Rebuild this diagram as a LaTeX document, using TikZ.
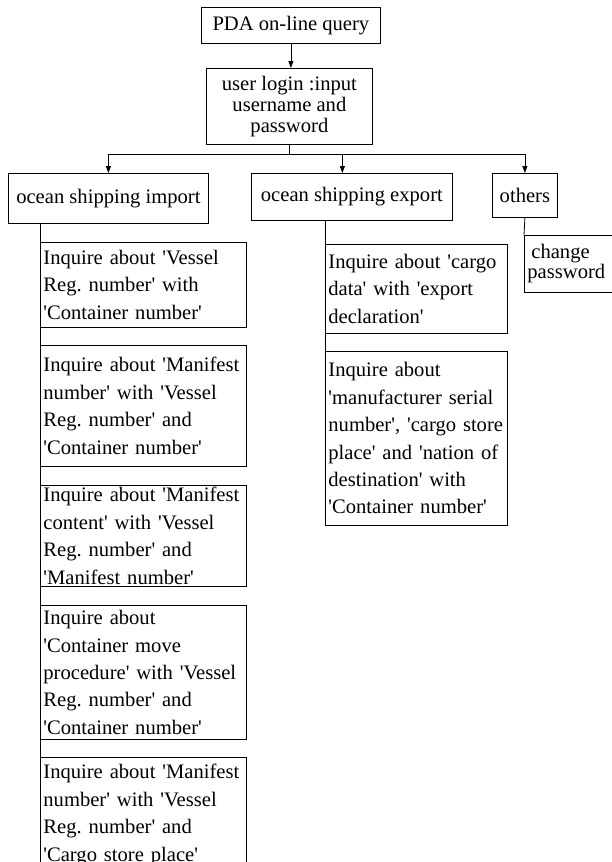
\documentclass[tikz,border=0pt]{standalone}
\usepackage{fontspec}
\setmainfont{Liberation Serif}[Ligatures=TeXOff]
\frenchspacing
\usetikzlibrary{arrows.meta,positioning}

\begin{document}
\begin{tikzpicture}[x=1pt, y=-1pt, >={Triangle[length=7pt,width=5pt]},
  qbox/.style={draw,line width=.8pt,anchor=north west,inner xsep=3pt,inner ysep=0pt,
               font=\fontsize{20.6pt}{27.4pt}\selectfont},
  hbox/.style={qbox,align=center},
  lbox/.style={qbox,align=left},
  conn/.style={line width=.8pt}]
  \useasboundingbox (0,0) rectangle (611,862);
  % top of the tree
  \node[hbox,minimum width=179pt,minimum height=36pt] (pda) at (201,7) {PDA on-line query};
  \node[hbox,minimum width=166pt,minimum height=76pt,
        font=\fontsize{20.6pt}{21pt}\selectfont] (login) at (206,68)
        {user login :input\\username and\\password};
  \node[hbox,minimum width=200pt,minimum height=50pt] (imp) at (8,173) {ocean shipping import};
  \node[hbox,minimum width=201pt,minimum height=47pt] (exp) at (251,173) {ocean shipping export};
  \node[hbox,minimum width=65pt,minimum height=44pt]  (oth) at (492,173) {others};
  % import queries
  \node[lbox,text width=200pt,minimum height=85pt] (ib1) at (40,242)
        {Inquire about 'Vessel\\Reg. number' with\\'Container number'};
  \node[lbox,text width=200pt,minimum height=121pt] (ib2) at (40,345)
        {Inquire about 'Manifest\\number' with 'Vessel\\Reg. number' and\\'Container number'};
  \node[lbox,text width=200pt,minimum height=101pt] (ib3) at (40,485)
        {Inquire about 'Manifest\\content' with 'Vessel\\Reg. number' and\\'Manifest number'};
  \node[lbox,text width=200pt,minimum height=134pt] (ib4) at (40,605)
        {Inquire about\\'Container move\\procedure' with 'Vessel\\Reg. number' and\\'Container number'};
  \node[lbox,text width=200pt,minimum height=115pt] (ib5) at (40,757)
        {Inquire about 'Manifest\\number' with 'Vessel\\Reg. number' and\\'Cargo store place'};
  % export queries
  \node[lbox,text width=176pt,minimum height=89pt] (eb1) at (325,244)
        {Inquire about 'cargo\\data' with 'export\\declaration'};
  \node[lbox,text width=176pt,minimum height=174pt] (eb2) at (325,351)
        {Inquire about\\'manufacturer serial\\number', 'cargo store\\place' and 'nation of\\destination' with\\'Container number'};
  % others
  \node[lbox,text width=114pt,minimum height=57pt,
        font=\fontsize{20.6pt}{14pt}\selectfont] (chg) at (524,235)
        {\hspace{4pt}change\\password};

  \draw[conn,->] (pda.south) -- (pda.south |- login.north);
  \draw[conn] (login.south) -- ++(0,10) coordinate (split);
  \draw[conn,->] (split) -| (imp.north);
  \draw[conn,->] (split) -| ([xshift=-9.5pt]exp.north);
  \draw[conn,->] (split) -| (oth.north);
  \draw[conn] (imp.south -| ib1.west) -- (ib5.south west);
  \draw[conn] (exp.south -| eb1.west) -- (eb2.north west);
  \draw[conn] (oth.south) -- (chg.north west);
\end{tikzpicture}
\end{document}
